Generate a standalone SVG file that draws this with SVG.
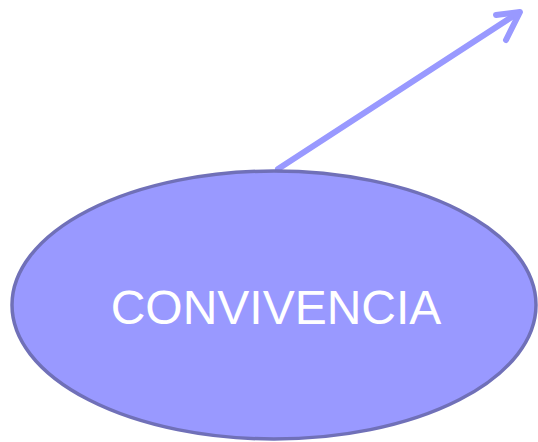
<svg xmlns="http://www.w3.org/2000/svg" width="538" height="442" viewBox="0 0 538 442">
<style>
.conn{stroke:#9999ff;stroke-width:6;fill:none;stroke-linecap:round;stroke-linejoin:round}
.node{fill:#9999ff;stroke:#7070b8;stroke-width:3.5}
.lbl{font-family:"Liberation Sans",Arial,sans-serif;font-size:48px;fill:#ffffff;text-anchor:middle}
</style>
<g id="connectors">
<line class="conn" x1="278" y1="169" x2="518" y2="13"/>
<polyline class="conn" points="496,15 520,12 506,40"/>
</g>
<g id="node-convivencia">
<ellipse class="node" cx="274" cy="305" rx="262" ry="134"/>
<text class="lbl" x="276" y="324">CONVIVENCIA</text>
</g>
</svg>
